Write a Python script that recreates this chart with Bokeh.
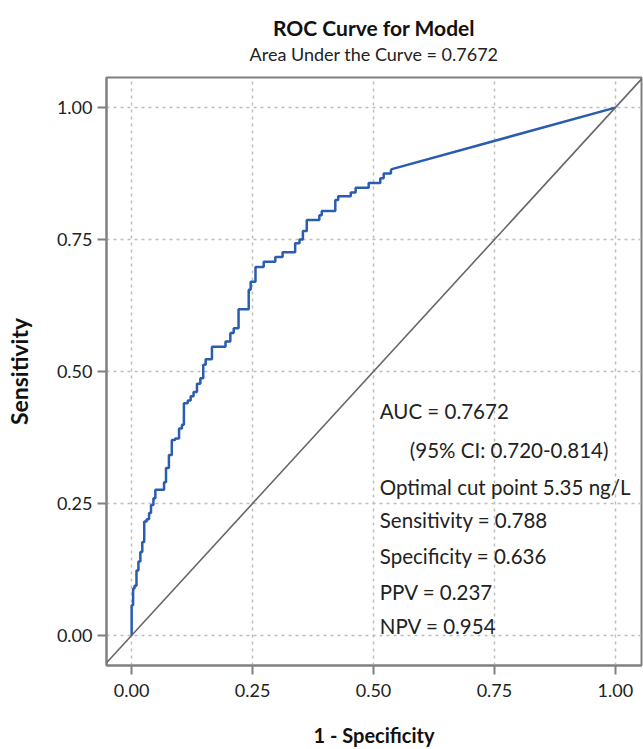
from bokeh.plotting import figure
from bokeh.models import Range1d, FixedTicker, PrintfTickFormatter, Slope, Title, ColumnDataSource
from bokeh.core.properties import value
from bokeh.embed import file_html
from bokeh.resources import INLINE

# ROC curve vertices (1 - specificity, sensitivity) at top of each riser
fpr = [0.000, 0.000, 0.003, 0.006, 0.010, 0.014, 0.018, 0.022, 0.026, 0.031,
       0.036, 0.040, 0.045, 0.049, 0.067, 0.071, 0.077, 0.083, 0.090, 0.098,
       0.104, 0.108, 0.116, 0.122, 0.128, 0.135, 0.142, 0.148, 0.153, 0.166,
       0.194, 0.204, 0.211, 0.221, 0.242, 0.246, 0.256, 0.273, 0.297, 0.312,
       0.338, 0.347, 0.354, 0.362, 0.388, 0.393, 0.421, 0.427, 0.453, 0.463,
       0.490, 0.514, 0.521, 0.536]
tpr = [0.000, 0.057, 0.089, 0.094, 0.123, 0.140, 0.158, 0.177, 0.216, 0.220,
       0.232, 0.247, 0.260, 0.276, 0.290, 0.317, 0.342, 0.370, 0.373, 0.392,
       0.399, 0.440, 0.445, 0.453, 0.461, 0.477, 0.487, 0.513, 0.523, 0.547,
       0.557, 0.573, 0.582, 0.618, 0.655, 0.670, 0.698, 0.708, 0.717, 0.726,
       0.743, 0.750, 0.766, 0.787, 0.796, 0.804, 0.825, 0.832, 0.839, 0.848,
       0.857, 0.866, 0.875, 0.883]
end_fpr = 1.0
end_tpr = 1.0

ticks = [0.0, 0.25, 0.5, 0.75, 1.0]

stats_text = ["AUC = 0.7672",
              "(95% CI: 0.720-0.814)",
              "Optimal cut point 5.35 ng/L",
              "Sensitivity = 0.788",
              "Specificity = 0.636",
              "PPV = 0.237",
              "NPV = 0.954"]

FONT = "Lato"
GRAY = "#808080"

p = figure(width=643, height=749, output_backend="svg", toolbar_location=None,
           title=None,
           x_range=Range1d(-0.052, 1.054), y_range=Range1d(-0.057, 1.057),
           min_border_left=106, min_border_right=2, min_border_top=77,
           min_border_bottom=82)

p.add_layout(Title(text="Area Under the Curve = 0.7672", align="center",
                   text_font=FONT, text_font_size="18px", text_font_style="normal",
                   text_color="#222222", standoff=25), "above")
p.add_layout(Title(text="ROC Curve for Model", align="center",
                   text_font=FONT, text_font_size="21px", text_font_style="bold",
                   text_color="#111111", standoff=-22), "above")

p.outline_line_color = GRAY
p.outline_line_width = 2
p.background_fill_color = "white"
p.border_fill_color = "white"

for ax in (p.xaxis[0], p.yaxis[0]):
    ax.ticker = FixedTicker(ticks=ticks)
    ax.formatter = PrintfTickFormatter(format="%.2f")
    ax.axis_line_color = GRAY
    ax.axis_line_width = 2
    ax.major_tick_line_color = GRAY
    ax.major_tick_line_width = 2
    ax.major_tick_out = 9
    ax.major_tick_in = 0
    ax.minor_tick_line_color = None
    ax.major_label_text_font = FONT
    ax.major_label_text_font_size = "18px"
    ax.major_label_text_color = "#222222"
    ax.axis_label_text_font = FONT
    ax.axis_label_text_font_style = "bold"
    ax.axis_label_text_color = "#111111"

p.xaxis.axis_label = "1 - Specificity"
p.yaxis.axis_label = "Sensitivity"
p.xaxis.axis_label_text_font_size = "20px"
p.yaxis.axis_label_text_font_size = "23px"
p.xaxis.major_label_standoff = 9
p.yaxis.major_label_standoff = 5
p.xaxis.axis_label_standoff = 23
p.yaxis.axis_label_standoff = 21

for g in (p.xgrid[0], p.ygrid[0]):
    g.ticker = FixedTicker(ticks=ticks)
    g.grid_line_color = "#bdbdbd"
    g.grid_line_dash = "3 4"
    g.grid_line_width = 1.5

p.add_layout(Slope(gradient=1, y_intercept=0, line_color="#666666", line_width=1.6))

p.step(x=fpr, y=tpr, mode="after", line_color="#2a5caf", line_width=2.5)
p.line(x=[fpr[-1], end_fpr], y=[tpr[-1], end_tpr], line_color="#2a5caf", line_width=2.5)

ann_x = [0.513, 0.575, 0.513, 0.513, 0.513, 0.513, 0.513]
ann_y = [0.425, 0.351, 0.281, 0.219, 0.151, 0.083, 0.017]
src = ColumnDataSource(dict(x=ann_x, y=ann_y, t=stats_text))
p.text(x="x", y="y", text="t", source=src, text_font=value(FONT),
       text_font_size="20.5px", text_align="left", text_baseline="middle",
       text_color="#222222")

open("out.html", "w").write(file_html(p, INLINE))
